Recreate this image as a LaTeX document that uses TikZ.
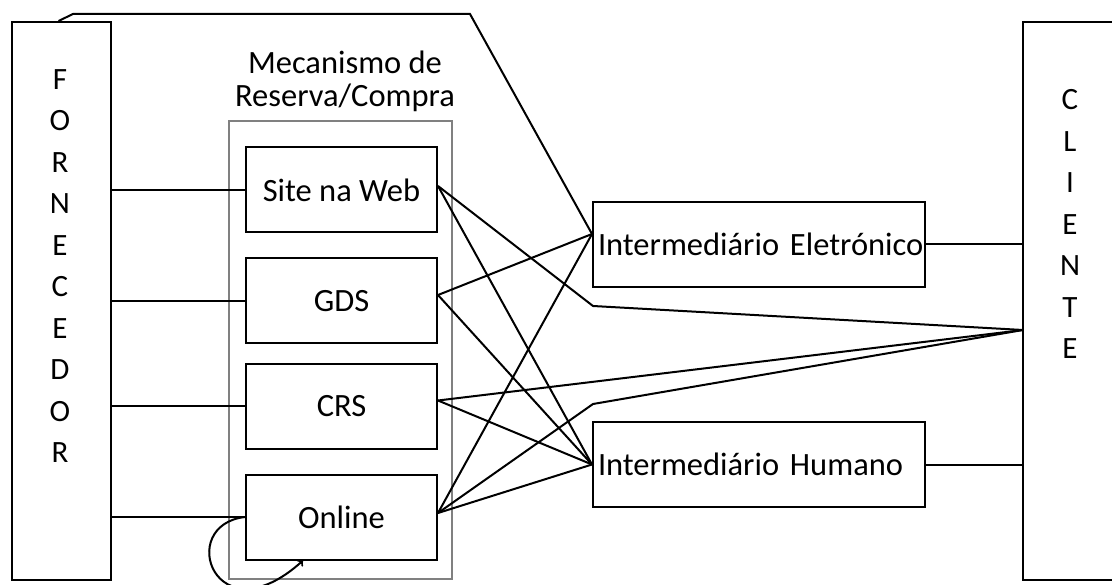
\documentclass[tikz,border=0pt]{standalone}
\usepackage{fontspec}
\setmainfont{Carlito}
\usetikzlibrary{arrows, calc, positioning}

\begin{document}
\begin{tikzpicture}[x=1pt,y=-1pt, line width=2pt, font=\fontsize{32.5}{33}\selectfont,
	caixa/.style={draw, minimum width=191pt, minimum height=85pt, inner sep=0pt},
	inter/.style={draw, text width=322pt, align=left, inner xsep=5pt, minimum height=85pt},
	letras/.style={align=center, font=\fontsize{31}{41.5}\selectfont}]
		\clip (0,0) rectangle (1112,585);
		\node[draw, minimum width=99pt, minimum height=558pt] (forn) at (61.5,301) {}; \node[letras] (fornTxt) at (60,266) {F\\O\\R\\N\\E\\C\\E\\D\\O\\R};
		\node[draw, minimum width=107pt, minimum height=558pt] (cli) at (1076.5,301) {}; \node[letras] (cliTxt) at (1070,224) {C\\L\\I\\E\\N\\T\\E};

		\node[draw=gray, minimum width=223pt, minimum height=458pt] (mec) at (340.5,350) {}; \node[align=center] (mecTit) at (345,81) {Mecanismo de\\Reserva/Compra};
		\node[caixa] (site) at (341.5,190) {Site na Web}; \node[caixa] (gds) at (341.5,301) {GDS}; \node[caixa] (crs) at (341.5,406.5) {CRS}; \node[caixa] (online) at (341.5,517) {Online};

		\node[inter] (ie) at (759,244.5) {\mbox{Intermedi\'ario Eletr\'onico}}; \node[inter] (ih) at (759,464.5) {\mbox{Intermedi\'ario Humano}};

		\coordinate (topoA) at (73,14); \coordinate (topoB) at (470,14); \coordinate (dobraA) at (593,306); \coordinate (dobraB) at (593,404); \coordinate (convCli) at (1023,330);
		\coordinate (ieL) at ([yshift=10.5pt]ie.west); \coordinate (siteR) at ([yshift=4pt]site.east); \coordinate (gdsR) at ([yshift=6pt]gds.east); \coordinate (crsR) at ([yshift=6pt]crs.east); \coordinate (onlineR) at ([yshift=4pt]online.east);

		% fornecedor -> mecanismos
		\draw (forn.east |- site.west) -- (site.west); \draw (forn.east |- gds.west) -- (gds.west); \draw (forn.east |- crs.west) -- (crs.west); \draw (forn.east |- online.west) -- (online.west);
		\draw ([xshift=-3pt]forn.north) -- (topoA) -- (topoB) -- (ieL);

		% mecanismos -> intermediarios e cliente
		\draw (siteR) -- (dobraA) -- (convCli); \draw (siteR) -- (ih.west);
		\draw (gdsR) -- (ieL); \draw (gdsR) -- (ih.west);
		\draw (crsR) -- (convCli); \draw (crsR) -- (ih.west);
		\draw (onlineR) -- (ieL); \draw (onlineR) -- (dobraB) -- (convCli); \draw (onlineR) -- (ih.west);
		\draw (ie.east) -- (ie.east -| cli.west); \draw (ih.east) -- (ih.east -| cli.west);

		\draw[->] (online.west) .. controls (175,525) and (215,640) .. ([xshift=-38.5pt]online.south);
	\end{tikzpicture}
\end{document}
